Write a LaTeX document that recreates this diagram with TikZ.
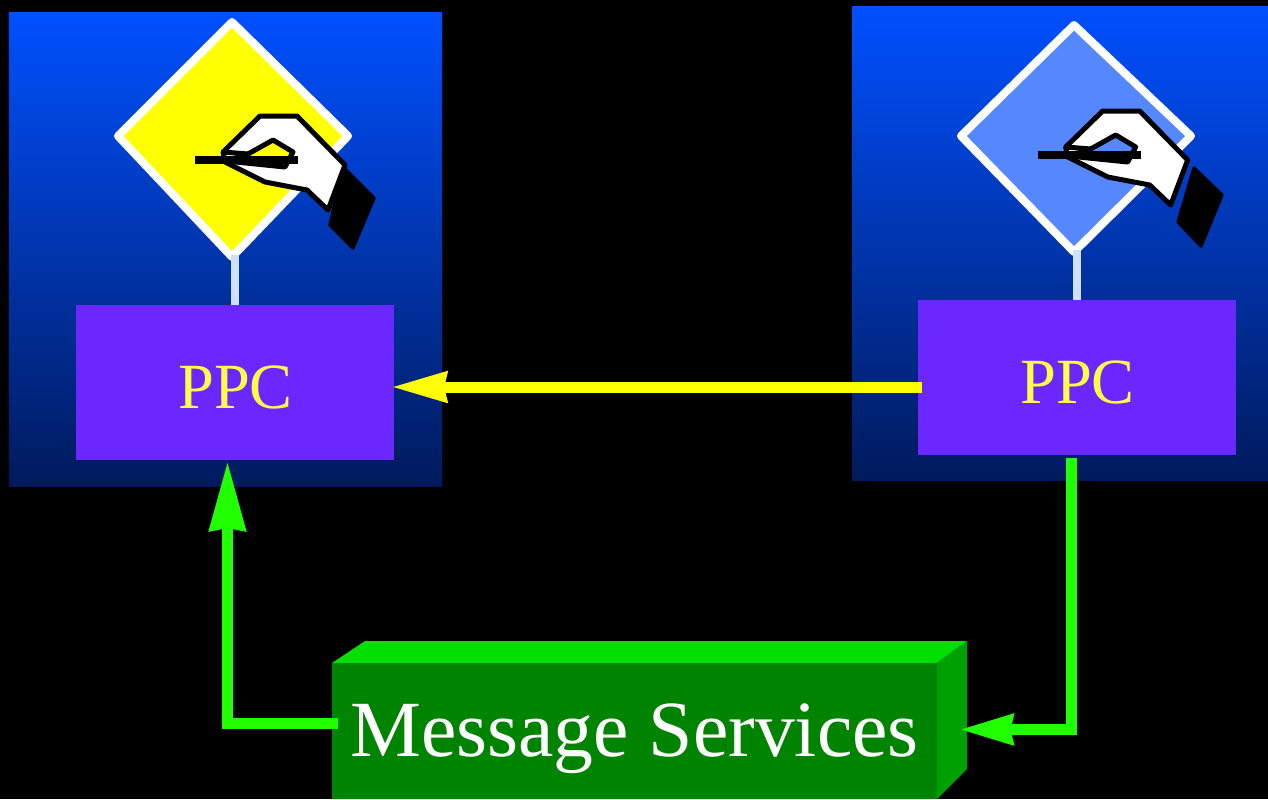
\documentclass[tikz,border=0pt]{standalone}
\usepackage{fontspec}
\setmainfont{Liberation Serif}
\usetikzlibrary{arrows.meta}

\definecolor{panelTop}{HTML}{0050FF}
\definecolor{panelBottom}{HTML}{001A5C}
\definecolor{ppcPurple}{HTML}{6A28FF}
\definecolor{ppcText}{HTML}{FFFF44}
\definecolor{linkGreen}{HTML}{22FF00}
\definecolor{signBlue}{HTML}{5588FF}
\definecolor{signYellow}{HTML}{FFFF00}
\definecolor{postBlue}{HTML}{D0E0FF}
\definecolor{boxFront}{HTML}{008400}
\definecolor{boxTop}{HTML}{00E000}
\definecolor{boxSide}{HTML}{00A000}

\tikzset{
    panel/.style={rectangle, top color=panelTop, bottom color=panelBottom,
      minimum height=14.2cm, inner sep=0pt, outer sep=0pt},
    ppcbox/.style={rectangle, fill=ppcPurple,
      minimum width=9.54cm, minimum height=4.65cm, inner sep=0pt, outer sep=0pt},
    ppclabel/.style={text=ppcText, inner sep=0pt,
      font=\fontsize{55}{60}\selectfont},
    sign/.style={draw=white, line width=2.4mm, line join=round},
    signpost/.style={draw=postBlue, line width=2.6mm},
    yellowlink/.style={draw=signYellow, line width=3.3mm,
      -{Stealth[length=1.65cm, width=0.87cm, inset=0.06cm]}},
    greenlink/.style={draw=linkGreen, line width=3.3mm, line join=miter},
    cuff/.style={fill=black, draw=black, line join=round, line width=1mm},
    pics/hand/.style={code={
      \draw[fill=white, line width=1.5mm, line join=round]
        (223,152) -- (260,116) -- (297,116) -- (345,165) -- (328,210)
        -- (307,190) -- (265,182) -- (225,162) -- cycle;
      \draw[fill=#1, line width=1.5mm, line join=round]
        (248,154) -- (273,140) -- (293,152) -- (285,167) -- (226,161) -- cycle;
      \draw[line width=1.5mm] (223,152) -- (248,154);
      \draw[line width=2.5mm] (195,160) -- (298,160);
    }},
}

\begin{document}
\begin{tikzpicture}[x=0.03cm, y=-0.03cm]

    \useasboundingbox (0,0) rectangle (1268,799);
    \fill[black] (0,0) rectangle (1268,799);

    \node[panel, minimum width=12.99cm] (panelL) at (225.5,249.5) {};
    \node[panel, minimum width=12.48cm] (panelR) at (1060,243.5) {};

    \draw[sign, fill=signYellow]
      (232,22) -- (118,136) -- (232,257) -- (348,136) -- cycle;
    \draw[sign, fill=signBlue]
      (1074,25) -- (961,136) -- (1074,252) -- (1191,136) -- cycle;

    \node[ppcbox] (ppcL) at (235,382.5) {};
    \node[ppcbox] (ppcR) at (1077,377.5) {};

    \node[ppclabel] (txtL) at (235.5,387) {PPC};
    \node[ppclabel] (txtR) at (1077.5,382) {PPC};

    \coordinate (signLtip) at (235,255);
    \coordinate (signRtip) at (1077,250);
    \draw[signpost] (signLtip) -- (ppcL.north);
    \draw[signpost] (signRtip) -- (ppcR.north);

    \pic (handL) at (0,0) {hand=signYellow};
    \draw[cuff] (346,170) -- (374,198) -- (353,248) -- (330,225) -- (338,190) -- cycle;

    \pic (handR) at (842.67,-5) {hand=signBlue};
    \draw[cuff] (1194,168) -- (1222,195) -- (1201,246) -- (1178,222) -- cycle;

    \fill[boxTop] (332,663) -- (365,641) -- (967,641) -- (937,663) -- cycle;
    \fill[boxSide] (937,663) -- (967,641) -- (967,769) -- (937,799) -- cycle;

    \node[rectangle, fill=boxFront,
      minimum width=18.15cm,
      minimum height=4.08cm,
      inner sep=0pt, outer sep=0pt] (msg) at (634.5,731) {};

    \node[text=white, inner sep=0pt,
      font=\fontsize{68}{74}\selectfont] (msgtxt) at (634.5,739) {Message Services};

    \coordinate (yellowstart) at (922,387);
    \draw[yellowlink] (yellowstart) -- ([xshift=-0.09cm]ppcL.east |- yellowstart);

    \draw[greenlink,
      -{Stealth[length=2.07cm, width=1.05cm, inset=0.06cm]}]
      ([shift={(6,-7.5)}]msg.west) -- (227.5,723.5) -- ([shift={(-7.5,1)}]ppcL.south);

    \draw[greenlink,
      -{Stealth[length=1.6cm, width=0.87cm, inset=0.06cm]}]
      ([shift={(-6,3)}]ppcR.south) -- (1071,729.5) -- ([shift={(22,-1.5)}]msg.east);

\end{tikzpicture}
\end{document}
